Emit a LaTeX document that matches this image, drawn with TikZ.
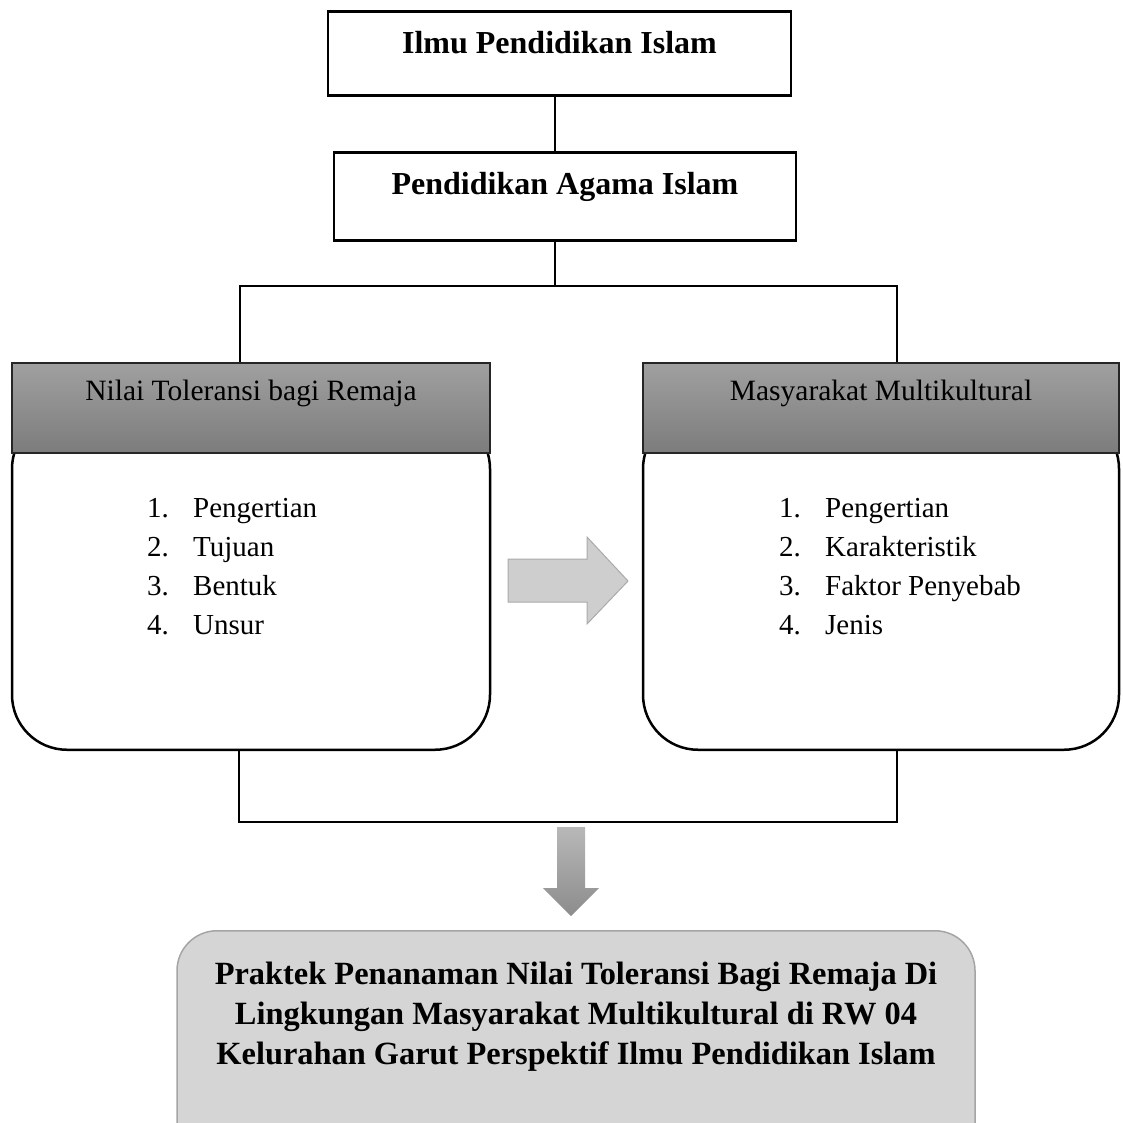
\documentclass[tikz,border=0pt]{standalone}
\usepackage{fontspec}
\setmainfont{Liberation Serif}
\usetikzlibrary{positioning}
\definecolor{headtop}{RGB}{160,160,160}
\definecolor{headbot}{RGB}{124,124,124}
\definecolor{arrowfill}{RGB}{206,206,206}
\definecolor{arrowedge}{RGB}{170,170,170}
\definecolor{downtop}{RGB}{184,184,184}
\definecolor{downbot}{RGB}{140,140,140}
\definecolor{resultfill}{RGB}{213,213,213}
\definecolor{resultedge}{RGB}{165,165,165}
\tikzset{
  titlebox/.style={draw,line width=2.5pt,inner sep=0pt,anchor=north,
    font=\fontsize{32}{39}\selectfont\bfseries},
  headbox/.style={draw=black!85,line width=1.5pt,inner sep=0pt,anchor=north,
    top color=headtop,bottom color=headbot,minimum height=90pt,
    text height=38pt,text depth=52pt,font=\fontsize{29.5}{39}\selectfont},
  bodybox/.style={draw,line width=2.5pt,rounded corners=55pt,anchor=south,
    fill=white,minimum height=336pt},
  item/.style={anchor=base west,inner sep=0pt,font=\fontsize{29}{39}\selectfont},
  resultbox/.style={draw=resultedge,line width=1.5pt,fill=resultfill,
    rounded corners=40pt,anchor=north,minimum width=798pt,minimum height=240pt},
  link/.style={line width=1.2pt}
}
\begin{document}
\begin{tikzpicture}[x=1pt,y=-1pt]
  \useasboundingbox (0,0) rectangle (1123,1122);
  \clip (0,0) rectangle (1123,1122);
  \node[titlebox,minimum width=463pt,text height=42pt,text depth=42pt] (ilmu) at (559.5,10) {Ilmu Pendidikan Islam};
  \node[titlebox,minimum width=462pt,text height=42pt,text depth=46pt] (pai) at (565,151) {Pendidikan Agama Islam};

  \node[bodybox,minimum width=478pt] (nilai-body) at (251,751) {};
  \node[bodybox,minimum width=476pt] (masy-body) at (881,751) {};
  \node[headbox,minimum width=478pt] (nilai-head) at (251,362) {Nilai Toleransi bagi Remaja};
  \node[headbox,minimum width=476pt] (masy-head) at (881,362) {Masyarakat Multikultural};

  \foreach \t [count=\i] in {Pengertian,Tujuan,Bentuk,Unsur}
    \node[item] (nilai-\i) at (147,478+39*\i) {\makebox[46pt][l]{\i.}\t};
  \foreach \t [count=\i] in {Pengertian,Karakteristik,Faktor Penyebab,Jenis}
    \node[item] (masy-\i) at (779,478+39*\i) {\makebox[46pt][l]{\i.}\t};

  \coordinate (spine) at (555,286);
  \coordinate (top-l) at (240,286);
  \coordinate (top-r) at (897,286);
  \coordinate (bot-l) at (239,822);
  \coordinate (bot-r) at (897,822);
  \draw[link] (spine |- ilmu.south) -- (spine |- pai.north);
  \draw[link] (spine |- pai.south) -- (spine);
  \draw[link] (top-l |- nilai-head.north) -- (top-l) -- (top-r) -- (top-r |- masy-head.north);
  \draw[link] (bot-l |- nilai-body.south) -- (bot-l) -- (bot-r) -- (bot-r |- masy-body.south);

  \draw[arrowedge,fill=arrowfill,line width=1pt] (508,559) -- (587,559) -- (587,537) -- (628,581)
    -- (587,624) -- (587,602) -- (508,602) -- cycle;
  \shade[top color=downtop,bottom color=downbot] (557,827) -- (585,827) -- (585,888) -- (599,888)
    -- (571,916) -- (543,888) -- (557,888) -- cycle;

  \node[resultbox] (result) at (576,930) {};
  \node[anchor=north,inner sep=0pt,align=center,font=\fontsize{32.4}{40}\selectfont\bfseries] (result-text) at (576,962)
    {Praktek Penanaman Nilai Toleransi Bagi Remaja Di\\
     Lingkungan Masyarakat Multikultural di RW 04\\
     Kelurahan Garut Perspektif Ilmu Pendidikan Islam};
\end{tikzpicture}
\end{document}
